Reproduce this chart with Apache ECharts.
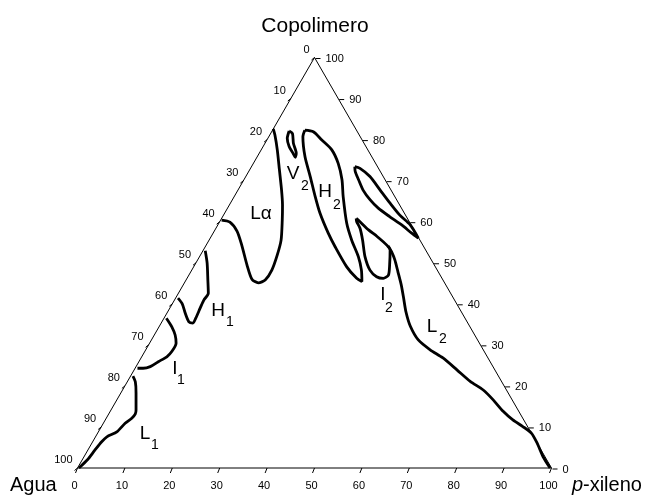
<!DOCTYPE html>
<html><head><meta charset="utf-8">
<script src="https://cdn.jsdelivr.net/npm/echarts@6/dist/echarts.min.js"></script>
<style>html,body{margin:0;padding:0;background:#fff}#c{width:647px;height:495px}</style>
</head><body><div id="c"></div>
<script>
// ---- Tick values / labels (percent) ----
const tickValues = [0, 10, 20, 30, 40, 50, 60, 70, 80, 90, 100];
const tickLabels = ['0', '10', '20', '30', '40', '50', '60', '70', '80', '90', '100'];
const vertexNames = ['Agua', 'p-xileno', 'Copolimero'];

// ---- Phase boundaries: [p-xileno %, copolimero %] (agua = remainder) ----
const curveL1 = [[0.5,22.4],[1.7,21.0],[3.2,18.3],[5.3,14.1],[5.6,13.2],[5.4,12.1],[4.6,10.9],[3.9,8.8],[2.4,7.6],[1.9,6.4],[1.5,4.4],[1.1,2.0],[0.3,0]];
const curveI1 = [[0.5,36.5],[2.7,34.4],[4.4,32.4],[5.6,30.4],[5.7,28.3],[5.3,27.1],[4.1,25.9],[3.0,24.7],[1.7,24.3],[0.5,24.3]];
const curveH1 = [[0.5,52.9],[2.4,49.9],[4.6,45.8],[6.3,42.6],[6.2,40.9],[6.4,39.0],[6.7,36.5],[6.7,35.3],[5.7,35.6],[3.8,37.8],[2.1,40.0],[0.5,41.4]];
const curveLa = [[0,82.6],[1.1,81.1],[3.4,77.5],[6.3,72.6],[9.2,67.7],[11.2,64.1],[13.0,60.4],[15.2,55.5],[16.2,51.9],[16.9,48.2],[16.7,45.8],[15.6,45.1],[13.8,46.0],[11.0,49.5],[7.5,54.3],[4.8,57.7],[2.2,59.9],[0.2,60.4]];
const curveV2 = [[3.6,82.1],[4.6,81.5],[6.0,79.1],[7.8,76.7],[8.1,75.7],[7.1,76.7],[5.5,78.3],[4.1,80.3],[3.6,82.1]];
const curveH2 = [[6.8,82.3],[8.8,81.9],[11.6,79.9],[14.9,77.5],[17.9,74.2],[20.7,70.2],[23.0,66.1],[27.0,59.6],[30.1,55.5],[33.5,51.5],[35.8,48.2],[37.3,45.4],[35.8,46.2],[32.3,49.0],[27.4,53.9],[24.3,57.2],[20.1,62.1],[17.1,66.1],[13.6,71.0],[10.1,75.8],[7.2,80.7],[6.8,82.3]];
const curveUpper = [[21.8,73.4],[23.1,73.0],[26.2,71.0],[30.0,67.7],[33.7,64.5],[37.2,61.6],[40.6,59.2],[43.9,56.0],[41.9,57.2],[38.8,59.2],[35.3,61.2],[31.8,63.3],[29.1,65.3],[26.4,67.7],[24.2,70.2],[22.5,72.2],[21.8,73.4]];
const curveI2 = [[28.4,60.8],[29.6,60.0],[32.4,58.0],[35.0,56.4],[38.1,54.3],[39.4,53.1],[41.1,49.5],[42.1,47.0],[41.4,46.2],[39.8,46.6],[37.6,48.2],[34.9,51.5],[32.4,55.5],[30.4,58.4],[28.9,60.0],[28.4,60.8]];
const curveL2 = [[38.5,54.1],[40.0,52.6],[41.6,50.7],[43.7,47.8],[46.0,44.6],[48.1,41.4],[50.3,38.0],[52.9,34.6],[56.3,31.2],[60.0,28.8],[63.7,26.8],[68.1,23.9],[72.3,21.1],[76.1,19.0],[79.4,16.6],[82.9,13.8],[86.0,11.7],[88.9,10.1],[91.5,8.5],[93.9,6.1],[96.8,2.8],[99.7,0]];
const triangle = [[0,0],[100,0],[0,100],[0,0]];

// ---- ternary -> cartesian (data units) ----
const SQ3 = Math.sqrt(3) / 2;
function toXY(pc) { return [pc[0] + pc[1] / 2, pc[1] * SQ3]; }

const FONT = '"Liberation Sans", Arial, sans-serif';
const chart = echarts.init(document.getElementById('c'), null, {renderer: 'canvas'});

function lineSeries(data, width) {
  return {
    type: 'line', data: data.map(toXY), showSymbol: false, symbol: 'none',
    smooth: 0.25, clip: false, silent: true, animation: false,
    lineStyle: {color: '#000', width: width}, z: 3
  };
}

// tick data: [axis, value, labelIndex]  axis 0 = bottom (p-xileno), 1 = left (agua), 2 = right (copolimero)
const tickData = [];
[0, 1, 2].forEach(a => tickValues.forEach((v, i) => tickData.push([a, v, i])));

const tickSeries = {
  type: 'custom', coordinateSystem: 'cartesian2d', clip: false, silent: true, animation: false,
  data: tickData, z: 4,
  renderItem: function (params, api) {
    const a = api.value(0), v = api.value(1), li = api.value(2);
    let comp;
    if (a === 0) comp = [v, 0];
    else if (a === 1) comp = [0, 100 - v];
    else comp = [100 - v, v];
    const pt = api.coord(toXY(comp));
    let x1, y1, x2, y2, tx, ty, align;
    if (a === 0) { x1 = pt[0]; y1 = pt[1]; x2 = pt[0] - 2; y2 = pt[1] + 5; tx = pt[0] - 3; ty = pt[1] + 18; align = 'center'; }
    else if (a === 1) { x1 = pt[0]; y1 = pt[1]; x2 = pt[0] - 3; y2 = pt[1] + 2.5; tx = pt[0] - 5; ty = pt[1] - 8; align = 'right'; }
    else { x1 = pt[0] + 1; y1 = pt[1] + 1; x2 = pt[0] + 6; y2 = pt[1] + 1; tx = pt[0] + 11; ty = pt[1] + 1.5; align = 'left'; }
    return {
      type: 'group',
      children: [
        {type: 'line', shape: {x1: x1, y1: y1, x2: x2, y2: y2}, style: {stroke: '#000', lineWidth: 1}},
        {type: 'text', style: {text: tickLabels[li], x: tx, y: ty, fill: '#000', font: '11px ' + FONT,
          align: align, textAlign: align, verticalAlign: 'middle', textVerticalAlign: 'middle'}}
      ]
    };
  }
};

function txt(text, x, y, size, align, italic) {
  return {type: 'text', x: x, y: y, silent: true, z: 10,
    style: {text: text, fill: '#000', font: (italic ? 'italic ' : '') + size + 'px ' + FONT,
      align: align || 'center', textAlign: align || 'center', verticalAlign: 'middle', textVerticalAlign: 'middle'}};
}

const graphics = [
  txt(vertexNames[2], 315, 26, 21, 'center'),
  txt(vertexNames[0], 10, 485, 20, 'left'),
  txt('p', 572, 485, 20, 'left', true),
  txt(vertexNames[1].slice(1), 583, 485, 20, 'left'),
  txt('L\u03b1', 261, 214, 19),
  txt('V', 293, 174, 19), txt('2', 305, 186, 14),
  txt('H', 325, 192, 19), txt('2', 337, 205, 14),
  txt('H', 218, 311, 19), txt('1', 230, 322, 14),
  txt('I', 175, 369, 19), txt('1', 181, 380, 14),
  txt('L', 145, 434, 19), txt('1', 155, 445, 14),
  txt('I', 383, 295, 19), txt('2', 389, 308, 14),
  txt('L', 432, 327, 19), txt('2', 443, 339, 14)
];

chart.setOption({
  animation: false,
  backgroundColor: '#fff',
  grid: {left: 77.5, top: 57.5, width: 474, height: 410.5},
  xAxis: {type: 'value', min: 0, max: 100, show: false},
  yAxis: {type: 'value', min: 0, max: 100 * SQ3, show: false},
  graphic: graphics,
  series: [
    Object.assign(lineSeries(triangle, 1), {smooth: false, z: 2}),
    lineSeries(curveL1, 2.8),
    lineSeries(curveI1, 2.8),
    lineSeries(curveH1, 2.8),
    lineSeries(curveLa, 2.8),
    lineSeries(curveV2, 2.8),
    lineSeries(curveH2, 2.8),
    lineSeries(curveUpper, 2.8),
    lineSeries(curveI2, 2.8),
    lineSeries(curveL2, 2.8),
    tickSeries
  ]
});
</script></body></html>
